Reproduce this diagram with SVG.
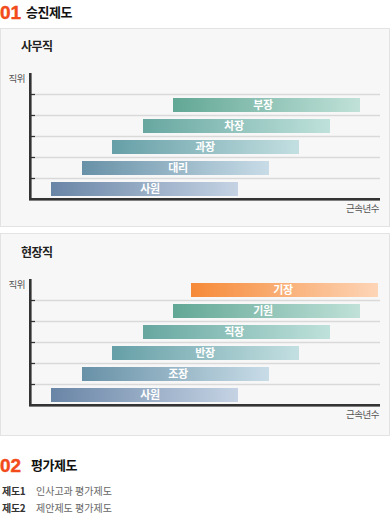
<svg xmlns="http://www.w3.org/2000/svg" width="390" height="520" viewBox="0 0 390 520">
<style>
text{font-family:"Noto Sans CJK KR","Noto Sans",sans-serif;}
.num{font-family:"Liberation Sans",Arial,sans-serif;font-weight:bold;font-size:19px;fill:#f24a1a;stroke:#f24a1a;stroke-width:0.4;}
.h{font-weight:bold;font-size:13px;fill:#111;letter-spacing:-0.5px;}
.sub{font-weight:bold;font-size:12px;fill:#222;letter-spacing:-0.5px;}
.ax{font-size:9.5px;fill:#555;letter-spacing:-0.5px;}
.bl{font-weight:bold;font-size:11px;fill:#fff;text-anchor:middle;letter-spacing:-0.3px;}
.panel{fill:#f7f7f7;stroke:#e3e3e3;stroke-width:1;}
.axis{fill:#333;}
.grid{stroke:#d9d9d9;stroke-width:1.3;}
.tick{stroke:#333;stroke-width:1.3;}
.k{font-size:10px;fill:#333;font-weight:bold;letter-spacing:-0.3px;}
.v{font-size:10px;fill:#666;letter-spacing:0px;}
</style>
<defs>
<linearGradient id="g1" x1="0" x2="1"><stop offset="0" stop-color="#6985a6"/><stop offset="1" stop-color="#c5d3e4"/></linearGradient>
<linearGradient id="g2" x1="0" x2="1"><stop offset="0" stop-color="#6891a7"/><stop offset="1" stop-color="#c8dce7"/></linearGradient>
<linearGradient id="g3" x1="0" x2="1"><stop offset="0" stop-color="#669fa7"/><stop offset="1" stop-color="#c3dfe1"/></linearGradient>
<linearGradient id="g4" x1="0" x2="1"><stop offset="0" stop-color="#67a7a0"/><stop offset="1" stop-color="#bfe1db"/></linearGradient>
<linearGradient id="g5" x1="0" x2="1"><stop offset="0" stop-color="#62a795"/><stop offset="1" stop-color="#c0e1d8"/></linearGradient>
<linearGradient id="g6" x1="0" x2="1"><stop offset="0" stop-color="#f68a38"/><stop offset="1" stop-color="#fdd5b7"/></linearGradient>
</defs>

<g id="title1">
<text class="num" x="0" y="19">01</text>
<text class="h" x="26" y="17">승진제도</text>
</g>

<g id="panel1">
<rect class="panel" x="0.5" y="28.5" width="389" height="198"/>
<text class="sub" x="21" y="51">사무직</text>
<text class="ax" x="25" y="81.5" text-anchor="end">직위</text>
<g>
<line class="grid" x1="35" y1="94.5" x2="380" y2="94.5"/>
<line class="grid" x1="35" y1="115.5" x2="380" y2="115.5"/>
<line class="grid" x1="35" y1="136.5" x2="380" y2="136.5"/>
<line class="grid" x1="35" y1="157.5" x2="380" y2="157.5"/>
<line class="grid" x1="35" y1="178.5" x2="380" y2="178.5"/>
<line class="tick" x1="31" y1="94.5" x2="35" y2="94.5"/>
<line class="tick" x1="31" y1="115.5" x2="35" y2="115.5"/>
<line class="tick" x1="31" y1="136.5" x2="35" y2="136.5"/>
<line class="tick" x1="31" y1="157.5" x2="35" y2="157.5"/>
<line class="tick" x1="31" y1="178.5" x2="35" y2="178.5"/>
<rect class="axis" x="29" y="73" width="2.6" height="127"/>
<rect class="axis" x="29" y="198" width="351" height="2.6"/>
</g>
<text class="ax" x="379" y="212" text-anchor="end">근속년수</text>
</g>

<g id="bar-bujang1"><rect x="173" y="98" width="187" height="14" fill="url(#g5)"/><text class="bl" x="263" y="109">부장</text></g>
<g id="bar-chajang1"><rect x="143" y="119" width="187" height="14" fill="url(#g4)"/><text class="bl" x="234" y="130">차장</text></g>
<g id="bar-gwajang1"><rect x="112" y="140" width="187" height="14" fill="url(#g3)"/><text class="bl" x="205" y="151">과장</text></g>
<g id="bar-daeri1"><rect x="82" y="161" width="187" height="14" fill="url(#g2)"/><text class="bl" x="178" y="172">대리</text></g>
<g id="bar-sawon1"><rect x="51" y="182" width="187" height="14" fill="url(#g1)"/><text class="bl" x="150" y="193">사원</text></g>

<g id="panel2">
<rect class="panel" x="0.5" y="233.5" width="389" height="202"/>
<text class="sub" x="21" y="257">현장직</text>
<text class="ax" x="25" y="287.5" text-anchor="end">직위</text>
<g>
<line class="grid" x1="35" y1="300.5" x2="380" y2="300.5"/>
<line class="grid" x1="35" y1="321.5" x2="380" y2="321.5"/>
<line class="grid" x1="35" y1="342.5" x2="380" y2="342.5"/>
<line class="grid" x1="35" y1="363.5" x2="380" y2="363.5"/>
<line class="grid" x1="35" y1="384.5" x2="380" y2="384.5"/>
<line class="tick" x1="31" y1="300.5" x2="35" y2="300.5"/>
<line class="tick" x1="31" y1="321.5" x2="35" y2="321.5"/>
<line class="tick" x1="31" y1="342.5" x2="35" y2="342.5"/>
<line class="tick" x1="31" y1="363.5" x2="35" y2="363.5"/>
<line class="tick" x1="31" y1="384.5" x2="35" y2="384.5"/>
<rect class="axis" x="29" y="279" width="2.6" height="127"/>
<rect class="axis" x="29" y="404" width="351" height="2.6"/>
</g>
<text class="ax" x="379" y="418" text-anchor="end">근속년수</text>
</g>

<g id="bar-gijang2"><rect x="191" y="283" width="187" height="14" fill="url(#g6)"/><text class="bl" x="283" y="294">기장</text></g>
<g id="bar-giwon2"><rect x="173" y="304" width="187" height="14" fill="url(#g5)"/><text class="bl" x="263" y="315">기원</text></g>
<g id="bar-jikjang2"><rect x="143" y="325" width="187" height="14" fill="url(#g4)"/><text class="bl" x="234" y="336">직장</text></g>
<g id="bar-banjang2"><rect x="112" y="346" width="187" height="14" fill="url(#g3)"/><text class="bl" x="205" y="357">반장</text></g>
<g id="bar-jojang2"><rect x="82" y="367" width="187" height="14" fill="url(#g2)"/><text class="bl" x="178" y="378">조장</text></g>
<g id="bar-sawon2"><rect x="51" y="388" width="187" height="14" fill="url(#g1)"/><text class="bl" x="150" y="399">사원</text></g>

<g id="title2">
<text class="num" x="0" y="472">02</text>
<text class="h" x="31" y="470">평가제도</text>
</g>
<g id="list">
<text class="k" x="2" y="495">제도1</text>
<text class="v" x="36" y="495">인사고과 평가제도</text>
<text class="k" x="2" y="512">제도2</text>
<text class="v" x="36" y="512">제안제도 평가제도</text>
</g>
</svg>
